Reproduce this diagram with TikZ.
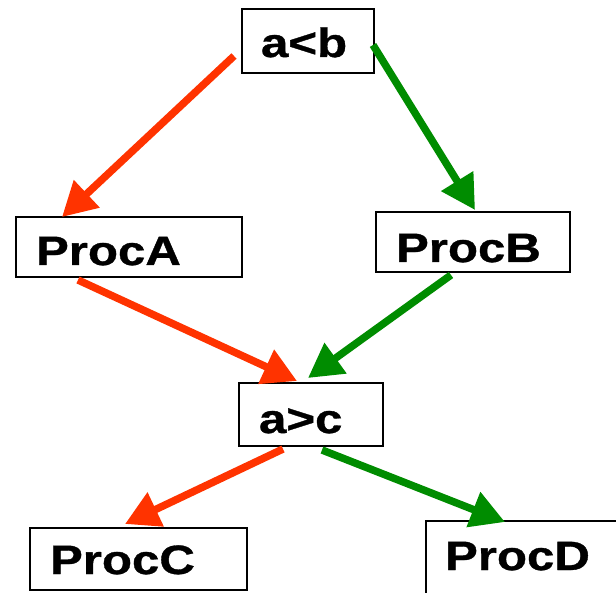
\documentclass[tikz,border=0pt]{standalone}
\usepackage{fontspec}
\setmainfont{Liberation Sans}[BoldFeatures={FakeBold=0.8}]
\usetikzlibrary{arrows.meta,calc}
\definecolor{fred}{RGB}{255,51,0}
\definecolor{fgreen}{RGB}{0,140,0}
\newcommand{\boxtxt}[1]{\scalebox{1.2}[1]{\fontsize{41}{44}\selectfont\bfseries #1}}
\tikzset{
  procbox/.style={draw=black, line width=2pt, inner sep=0pt, align=left, anchor=center},
  redarrow/.style={draw=fred, line width=7.5pt, -{Triangle[length=34pt,width=36pt]}},
  greenarrow/.style={draw=fgreen, line width=7.5pt, -{Triangle[length=34pt,width=36pt]}}
}
\begin{document}
\begin{tikzpicture}[x=1pt,y=1pt]
\useasboundingbox (0,0) rectangle (616,592);
\clip (0,0) rectangle (616,592);
\node[procbox, text width=132pt, text height=48pt, text depth=16pt] (ab) at (308,551) {\hspace*{19pt}\boxtxt{a<b}};
\node[procbox, text width=226pt, text height=48pt, text depth=12pt] (pa) at (129,345) {\hspace*{20pt}\boxtxt{ProcA}};
\node[procbox, text width=194pt, text height=50pt, text depth=10pt] (pb) at (473,350) {\hspace*{20pt}\boxtxt{ProcB}};
\node[procbox, text width=144pt, text height=50pt, text depth=13pt] (ac) at (311,177.5) {\hspace*{20pt}\boxtxt{a>c}};
\node[procbox, text width=217pt, text height=46pt, text depth=16pt] (pc) at (138.5,33) {\hspace*{20pt}\boxtxt{ProcC}};
\node[procbox, text width=194pt, text height=49pt, text depth=30pt] (pd) at (523,31.5) {\hspace*{19pt}\boxtxt{ProcD}};
\draw[redarrow] ($(ab.west)+(-7,-15)$) -- ($(pa.north)+(-67,-1)$);
\draw[greenarrow] ($(ab.east)+(-2,-4)$) -- ($(pb.north)+(2,1)$);
\draw[redarrow] ($(pa.south)+(-51,-2)$) -- ($(ac.north)+(-14,1)$);
\draw[greenarrow] ($(pb.south)+(-22,-2)$) -- ($(ac.north)+(-3,4)$);
\draw[redarrow] ($(ac.south)+(-28,-2)$) -- ($(pc.north)+(-13.5,3)$);
\draw[greenarrow] ($(ac.south)+(11,-3)$) -- ($(pd.north)+(-18,-2)$);
\end{tikzpicture}
\end{document}
